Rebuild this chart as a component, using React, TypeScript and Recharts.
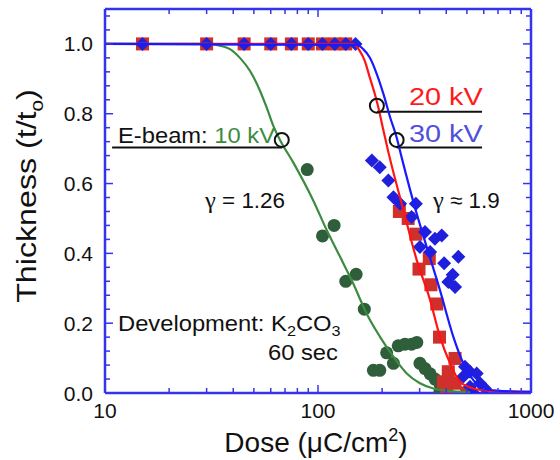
import React from "react"
import {
  ScatterChart, Scatter, XAxis, YAxis, ReferenceLine, ReferenceDot
} from "recharts"

// measured points (dose in uC/cm2, normalised thickness)
const greenDose = [89, 105, 119, 135, 151, 165, 182, 195, 210, 226, 238, 256, 275, 291, 301, 318, 336, 354, 374, 374]
const greenThick = [0.64, 0.45, 0.48, 0.32, 0.34, 0.24, 0.065, 0.065, 0.115, 0.085, 0.135, 0.14, 0.14, 0.145, 0.085, 0.07, 0.055, 0.04, 0.025, 0.005]

const redDose = [15, 30, 45, 60, 75, 90, 105, 120, 135, 241, 265, 288, 298, 333, 339, 361, 372, 388, 402, 409, 440, 440, 499]
const redThick = [1, 1, 1, 1, 1, 1, 1, 1, 1, 0.52, 0.5, 0.455, 0.355, 0.385, 0.31, 0.255, 0.16, 0.032, 0.009, 0.061, 0.099, 0.028, 0]

const blueDose = [15, 30, 45, 60, 75, 90, 105, 120, 135, 150, 179, 195, 214, 226, 243, 288, 275, 318, 301, 354, 381, 336, 391, 456, 429, 409, 440, 490, 481, 517, 556, 576, 608, 517, 536]
const blueThick = [1, 1, 1, 1, 1, 1, 1, 1, 1, 1, 0.666, 0.647, 0.609, 0.561, 0.542, 0.542, 0.504, 0.461, 0.418, 0.442, 0.451, 0.404, 0.372, 0.39, 0.339, 0.318, 0.304, 0.075, 0.047, 0.061, 0.056, 0.028, 0.013, 0.018, 0]

// fitted curves
const greenFitDose = [10, 30, 34.7, 38.6, 43, 47.9, 53.4, 57.4, 61.7, 66.3, 76.6, 95.1, 110, 127, 146.5, 169, 195.5, 226, 261, 301, 348, 402, 517]
const greenFitThick = [1, 1, 0.995, 0.985, 0.96, 0.923, 0.866, 0.818, 0.765, 0.725, 0.66, 0.551, 0.466, 0.39, 0.313, 0.228, 0.161, 0.104, 0.056, 0.028, 0.013, 0.007, 0.002]

const redFitDose = [10, 146, 157, 166, 175, 185, 192, 203, 214, 252, 291, 336, 374, 417, 464, 536, 619, 1000]
const redFitThick = [1, 1, 0.98, 0.951, 0.904, 0.856, 0.818, 0.751, 0.69, 0.523, 0.38, 0.266, 0.161, 0.085, 0.032, 0.013, 0.007, 0.003]

const blueFitDose = [10, 152, 163, 175, 189, 203, 218, 234, 247, 285, 324, 374, 432, 481, 536, 597, 690, 1000]
const blueFitThick = [1, 0.997, 0.985, 0.961, 0.913, 0.856, 0.79, 0.732, 0.675, 0.532, 0.418, 0.294, 0.161, 0.085, 0.037, 0.013, 0.007, 0.003]

// axis ticks
const xTicks = [10, 20, 30, 40, 50, 60, 70, 80, 90, 100, 200, 300, 400, 500, 600, 700, 800, 900, 1000]
const xMajor = [10, 100, 1000]
const yTicks = [0, 0.04, 0.08, 0.12, 0.16, 0.2, 0.24, 0.28, 0.32, 0.36, 0.4, 0.44, 0.48, 0.52, 0.56, 0.6, 0.64, 0.68, 0.72, 0.76, 0.8, 0.84, 0.88, 0.92, 0.96, 1.0, 1.04, 1.08]
const yMajor = [0, 0.2, 0.4, 0.6, 0.8, 1.0]

// annotation anchors: [dose, thickness]
const markerDots = [[67.6, 0.725], [189, 0.823], [234, 0.725]]
const underlines = [[10.8, 68, 0.703], [189, 589, 0.806], [234, 589, 0.703]]

const AXIS = "#3434ee"
const INK = "#111"
const SERIF = "'Liberation Serif', 'Times New Roman', serif"

const toPts = (xs: number[], ys: number[]) => xs.map((x, i) => ({ x, y: ys[i] }))
const isMajorY = (v: number) => yMajor.some((m) => Math.abs(m - v) < 1e-6)

const square = (fill: string) => (p: any) =>
  <rect x={p.cx - 6.5} y={p.cy - 6.5} width={13} height={13} fill={fill} />
const diamond = (fill: string) => (p: any) =>
  <polygon points={`${p.cx},${p.cy - 7} ${p.cx + 7},${p.cy} ${p.cx},${p.cy + 7} ${p.cx - 7},${p.cy}`} fill={fill} />
const dot = (fill: string) => (p: any) =>
  <circle cx={p.cx} cy={p.cy} r={6.5} fill={fill} />
const noShape = () => <g />

function BottomTick({ x, y, payload }: any) {
  const major = xMajor.includes(payload.value)
  return (
    <g>
      <line x1={x} x2={x} y1={y} y2={y - (major ? 8 : 5)} stroke={AXIS} strokeWidth={1.5} />
      {major && (
        <text x={x} y={y + 25} textAnchor="middle" fontSize={21} fill={INK}>{payload.value}</text>
      )}
    </g>
  )
}

function TopTick({ x, y, payload }: any) {
  const major = xMajor.includes(payload.value)
  return <line x1={x} x2={x} y1={y} y2={y + (major ? 8 : 5)} stroke={AXIS} strokeWidth={1.5} />
}

function LeftTick({ x, y, payload }: any) {
  const major = isMajorY(payload.value)
  return (
    <g>
      <line x1={x} x2={x + (major ? 8 : 5)} y1={y} y2={y} stroke={AXIS} strokeWidth={1.5} />
      {major && (
        <text x={x - 12} y={y + 7.5} textAnchor="end" fontSize={21} fill={INK}>
          {payload.value.toFixed(1)}
        </text>
      )}
    </g>
  )
}

function RightTick({ x, y, payload }: any) {
  const major = isMajorY(payload.value)
  return <line x1={x} x2={x - (major ? 8 : 5)} y1={y} y2={y} stroke={AXIS} strokeWidth={1.5} />
}

function Txt({ x, y, sx = 1.08, size = 22, fill = INK, anchor = "start", children }: any) {
  return (
    <text transform={`translate(${x},${y}) scale(${sx},1)`} fontSize={size} fill={fill} textAnchor={anchor}>
      {children}
    </text>
  )
}

export default function App() {
  const axisLine = { stroke: AXIS, strokeWidth: 2.5 }
  const xCommon = {
    type: "number" as const, scale: "log" as const, domain: [10, 1000], allowDataOverflow: true,
    dataKey: "x", ticks: xTicks, interval: 0, tickSize: 0, tickMargin: 0, height: 1,
    tickLine: false, axisLine
  }
  const yCommon = {
    type: "number" as const, domain: [0, 1.1], allowDataOverflow: true,
    dataKey: "y", ticks: yTicks, interval: 0, tickSize: 0, tickMargin: 0, width: 1,
    tickLine: false, axisLine
  }

  return (
    <div style={{ position: "absolute", left: 0, top: 0, fontFamily: "'Liberation Sans', Arial, sans-serif", background: "#fff" }}>
      <ScatterChart width={560} height={460} margin={{ top: 8, right: 28, bottom: 66, left: 104 }}>
        <XAxis xAxisId="b" orientation="bottom" {...xCommon} tick={<BottomTick />} />
        <XAxis xAxisId="t" orientation="top" {...xCommon} tick={<TopTick />} />
        <YAxis yAxisId="l" orientation="left" {...yCommon} tick={<LeftTick />} />
        <YAxis yAxisId="r" orientation="right" {...yCommon} tick={<RightTick />} />

        <Scatter xAxisId="b" yAxisId="l" data={toPts(greenDose, greenThick)} shape={dot("#2f5e3a")} isAnimationActive={false} />
        <Scatter xAxisId="b" yAxisId="l" data={toPts(redDose, redThick)} shape={square("#d0302c")} isAnimationActive={false} />
        <Scatter xAxisId="b" yAxisId="l" data={toPts(blueDose, blueThick)} shape={diamond("#2020dc")} isAnimationActive={false} />

        <Scatter xAxisId="b" yAxisId="l" data={toPts(greenFitDose, greenFitThick)} shape={noShape}
          line={{ stroke: "#3c8c40", strokeWidth: 2.2 }} lineType="joint" lineJointType="monotoneX" isAnimationActive={false} />
        <Scatter xAxisId="b" yAxisId="l" data={toPts(redFitDose, redFitThick)} shape={noShape}
          line={{ stroke: "#ff1414", strokeWidth: 2.2 }} lineType="joint" lineJointType="monotoneX" isAnimationActive={false} />
        <Scatter xAxisId="b" yAxisId="l" data={toPts(blueFitDose, blueFitThick)} shape={noShape}
          line={{ stroke: "#1a1aff", strokeWidth: 2.2 }} lineType="joint" lineJointType="monotoneX" isAnimationActive={false} />

        {underlines.map(([x1, x2, y], i) => (
          <ReferenceLine key={`u${i}`} xAxisId="b" yAxisId="l"
            segment={[{ x: x1, y }, { x: x2, y }]} stroke={INK} strokeWidth={2} />
        ))}
        {markerDots.map(([x, y], i) => (
          <ReferenceDot key={`d${i}`} xAxisId="b" yAxisId="l" x={x} y={y} r={7}
            fill="none" stroke={INK} strokeWidth={2} />
        ))}

        <Txt x={118} y={143}>{"E-beam: "}<tspan fill="#3c8c40">10 kV</tspan></Txt>
        <Txt x={409} y={105} size={24} sx={1.2} fill="#ff1a1a">20 kV</Txt>
        <Txt x={409} y={142} size={24} sx={1.2} fill="#5050dd">30 kV</Txt>
        <Txt x={205} y={208} sx={1.02}><tspan fontFamily={SERIF} fontSize={24}>γ</tspan>{" = 1.26"}</Txt>
        <Txt x={433} y={208} sx={1.02}><tspan fontFamily={SERIF} fontSize={24}>γ</tspan>{" ≈ 1.9"}</Txt>
        <Txt x={118} y={331}>
          {"Development: K"}<tspan dy={5} fontSize={15}>2</tspan><tspan dy={-5}>CO</tspan><tspan dy={5} fontSize={15}>3</tspan>
        </Txt>
        <Txt x={268} y={360}>60 sec</Txt>

        <text x={316} y={452} textAnchor="middle" fontSize={28} fill={INK}>
          Dose (μC/cm<tspan dy={-11} fontSize={18}>2</tspan><tspan dy={11}>)</tspan>
        </text>
        <text transform="translate(36,196) rotate(-90) scale(1.15,1)" textAnchor="middle" fontSize={28} fill={INK}>
          Thickness (t/t<tspan dy={7} fontSize={18}>o</tspan><tspan dy={-7}>)</tspan>
        </text>
      </ScatterChart>
    </div>
  )
}
